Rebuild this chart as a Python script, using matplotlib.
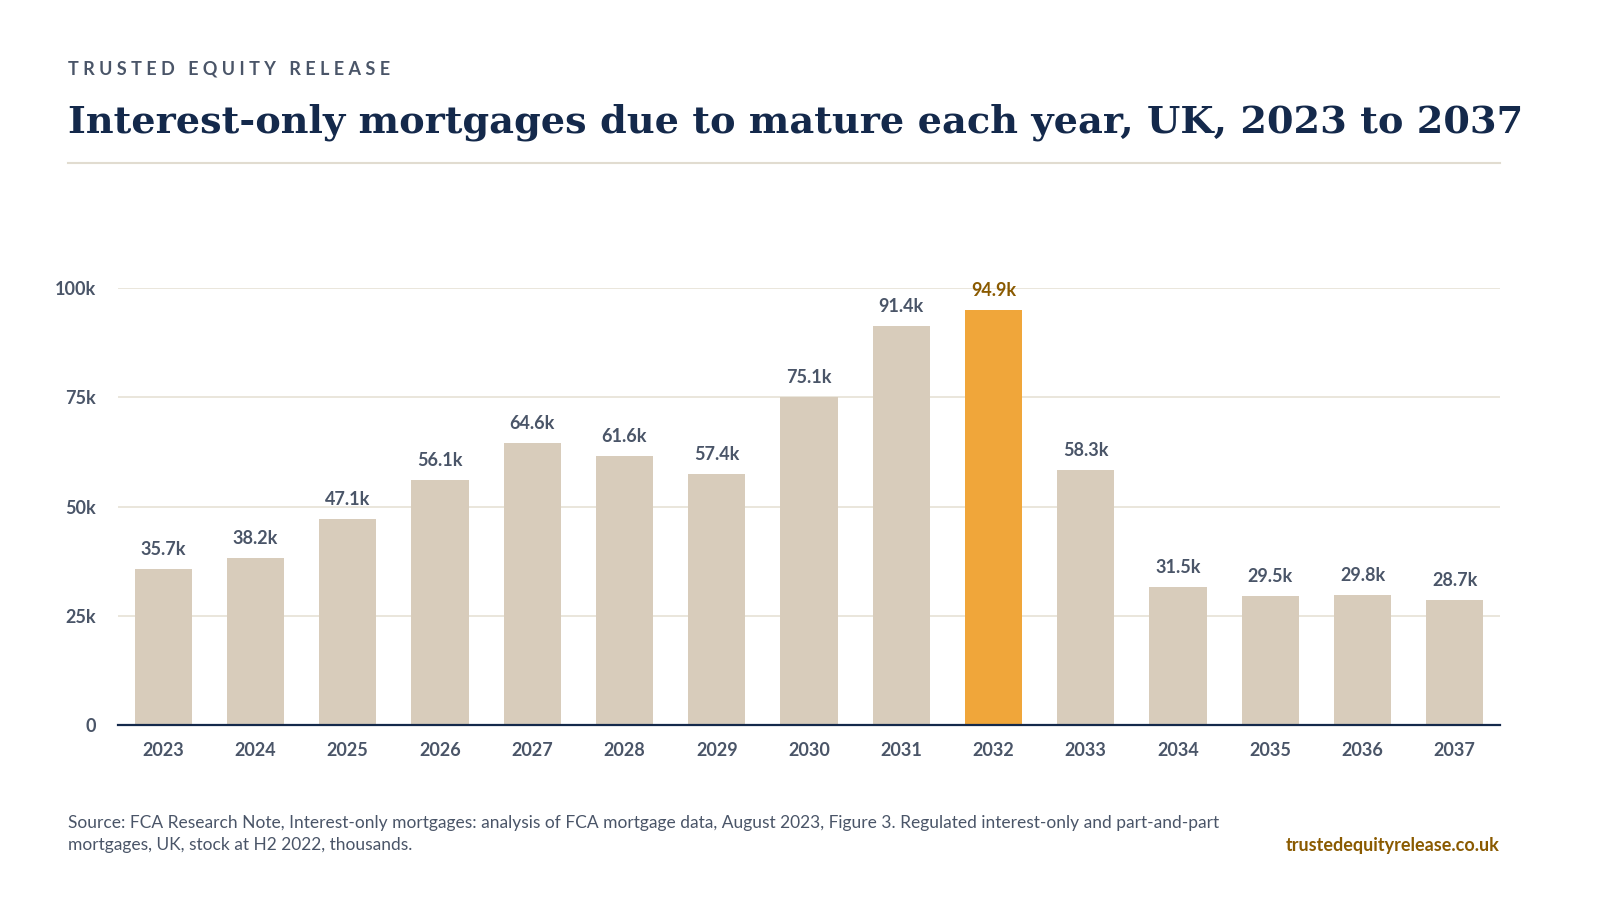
# Interest-only mortgages maturing per year, UK 2023-2037
import matplotlib
matplotlib.use("Agg")
import matplotlib.pyplot as plt
from matplotlib.lines import Line2D

years = ["2023", "2024", "2025", "2026", "2027", "2028", "2029", "2030",
         "2031", "2032", "2033", "2034", "2035", "2036", "2037"]
values = [35.7, 38.2, 47.1, 56.1, 64.6, 61.6, 57.4, 75.1,
          91.4, 94.9, 58.3, 31.5, 29.5, 29.8, 28.7]
highlight = "2032"
yticks = [0, 25, 50, 75, 100]
ytick_labels = ["0", "25k", "50k", "75k", "100k"]

navy = "#14294B"
grey = "#4A5568"
tan = "#D8CCBB"
orange = "#F0A63A"
brown = "#8A5A00"

plt.rcParams["font.family"] = ["Lato", "DejaVu Sans"]

fig = plt.figure(figsize=[16, 9], dpi=100)
ax = fig.add_axes([118 / 1600, 1 - 725 / 900, 1382 / 1600, 437 / 900])

x = range(len(years))
colors = [orange if y == highlight else tan for y in years]
ax.bar(x, values, width=0.62, color=colors, zorder=2)

for i, v in enumerate(values):
    c = brown if years[i] == highlight else grey
    ax.text(i, v + 2.5, f"{v:.1f}k", ha="center", va="bottom",
            fontsize=13, fontweight="bold", color=c, clip_on=False)

ax.set_xlim(-0.49, 14.49)
ax.set_ylim(0, 100)
ax.set_yticks(yticks)
ax.set_yticklabels(ytick_labels)
ax.set_xticks(list(x))
ax.set_xticklabels(years)
ax.tick_params(axis="both", length=0, labelsize=13, labelcolor=grey)
ax.tick_params(axis="x", pad=12)
ax.tick_params(axis="y", pad=16)
for lab in ax.get_xticklabels() + ax.get_yticklabels():
    lab.set_fontweight("bold")
ax.grid(axis="y", color="#E6E1D6", linewidth=1.2, zorder=0)
for s in ["top", "right", "left"]:
    ax.spines[s].set_visible(False)
ax.spines["bottom"].set_color(navy)
ax.spines["bottom"].set_linewidth(1.6)
ax.spines["bottom"].set_zorder(3)

# header
fig.text(68 / 1600, 1 - 69 / 900, " ".join("TRUSTED EQUITY RELEASE").replace("   ", "\u2002 "),
         fontsize=13, fontweight="bold", color=grey, va="center")
fig.text(68 / 1600, 1 - 122 / 900,
         "Interest-only mortgages due to mature each year, UK, 2023 to 2037",
         fontsize=27.5, fontweight="bold", color=navy, va="center",
         family=["DejaVu Serif"])
fig.add_artist(Line2D([68 / 1600, 1500 / 1600], [1 - 163 / 900] * 2,
                      color="#E1DCD0", linewidth=1.5))

# footer
fig.text(68 / 1600, 1 - 834 / 900,
         "Source: FCA Research Note, Interest-only mortgages: analysis of FCA mortgage data, August 2023, Figure 3. Regulated interest-only and part-and-part\n"
         "mortgages, UK, stock at H2 2022, thousands.",
         fontsize=12.5, color=grey, va="center", linespacing=1.5)
fig.text(1500 / 1600, 1 - 846 / 900, "trustedequityrelease.co.uk",
         fontsize=13, fontweight="bold", color=brown, va="center", ha="right")

fig.savefig("out.png", dpi=100, facecolor="white")
